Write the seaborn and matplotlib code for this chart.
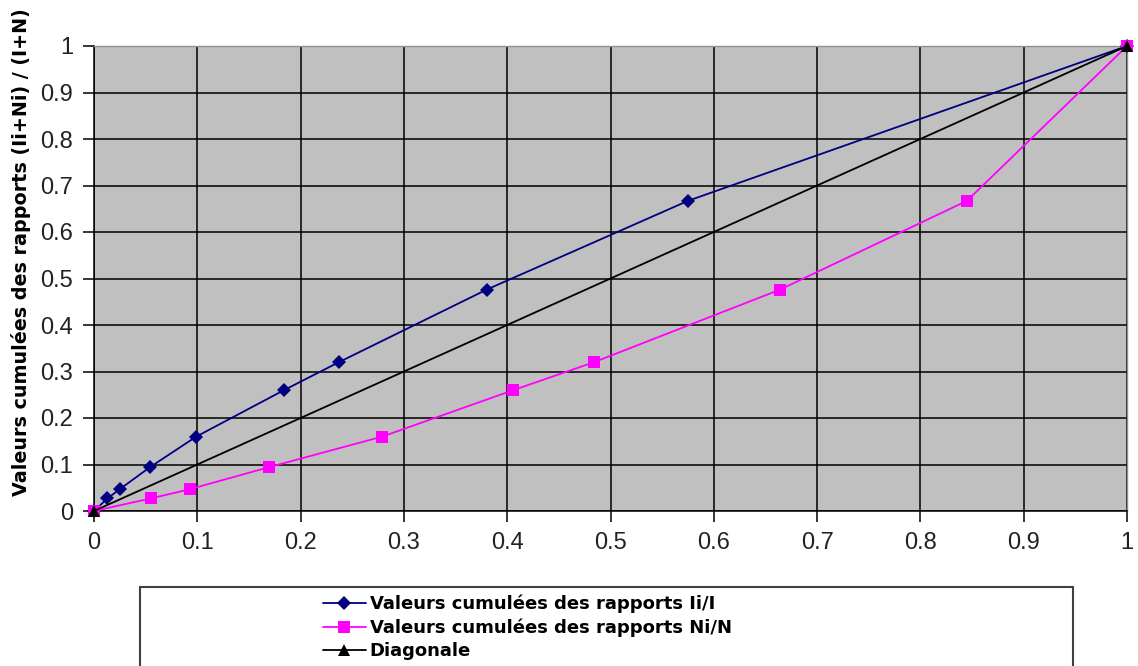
import matplotlib
matplotlib.use("Agg")
import matplotlib.pyplot as plt
import seaborn as sns
import pandas as pd
from matplotlib.patches import Rectangle

# cumulative shares
y_cum = [0, 0.027, 0.047, 0.094, 0.160, 0.260, 0.320, 0.476, 0.667, 1.0]
x_ii = [0, 0.013, 0.025, 0.054, 0.099, 0.184, 0.237, 0.380, 0.575, 1.0]
x_ni = [0, 0.055, 0.093, 0.169, 0.279, 0.406, 0.484, 0.664, 0.845, 1.0]
diag = [0, 1.0]

labels = ["Valeurs cumulées des rapports Ii/I",
          "Valeurs cumulées des rapports Ni/N",
          "Diagonale"]
ticks = [0, 0.1, 0.2, 0.3, 0.4, 0.5, 0.6, 0.7, 0.8, 0.9, 1]
tick_labels = ["0", "0.1", "0.2", "0.3", "0.4", "0.5", "0.6", "0.7", "0.8", "0.9", "1"]

sns.set_style("white")
plt.rcParams['font.family'] = ['Liberation Sans', 'DejaVu Sans']

fig = plt.figure(figsize=(11.38, 6.66), dpi=100)
ax = fig.add_axes([94 / 1138, 1 - 511 / 666, 1033 / 1138, 465 / 666])
ax.set_facecolor("#C0C0C0")

df_ii = pd.DataFrame({"x": x_ii, "y": y_cum})
df_ni = pd.DataFrame({"x": x_ni, "y": y_cum})
df_d = pd.DataFrame({"x": diag, "y": diag})

sns.lineplot(data=df_ii, x="x", y="y", ax=ax, sort=False, color="#000080",
             marker="D", markersize=7, markeredgewidth=0, linewidth=1.3,
             label=labels[0], zorder=4, clip_on=False)
sns.lineplot(data=df_ni, x="x", y="y", ax=ax, sort=False, color="#FF00FF",
             marker="s", markersize=8, markeredgewidth=0, linewidth=1.3,
             label=labels[1], zorder=4, clip_on=False)
sns.lineplot(data=df_d, x="x", y="y", ax=ax, sort=False, color="black",
             marker="^", markersize=9, markeredgewidth=0, linewidth=1.3,
             label=labels[2], zorder=5, clip_on=False)

ax.set_xlim(0, 1)
ax.set_ylim(0, 1)
ax.set_xticks(ticks)
ax.set_xticklabels(tick_labels)
ax.set_yticks(ticks)
ax.set_yticklabels(tick_labels)
ax.grid(True, color="black", linewidth=1.1, zorder=1)
ax.set_axisbelow(True)
ax.tick_params(axis="both", direction="out", length=8, width=1.1, color="black",
               labelsize=17, pad=7, labelcolor="#222222")
ax.tick_params(axis="x", bottom=True)
ax.tick_params(axis="y", left=True)
for side in ["left", "bottom"]:
    ax.spines[side].set_color("black")
    ax.spines[side].set_linewidth(1.1)
for side in ["top", "right"]:
    ax.spines[side].set_color("#909090")
    ax.spines[side].set_linewidth(1.0)

ax.set_xlabel("")
ax.set_ylabel("")
fig.text(21 / 1138, 1 - 252 / 666, "Valeurs cumulées des rapports (Ii+Ni) / (I+N)",
         rotation=90, ha="center", va="center", fontsize=13.8, fontweight="bold",
         family="DejaVu Sans", color="black")

# legend box, running off the bottom of the figure
handles, leg_labels = ax.get_legend_handles_labels()
ax.get_legend().remove()
fig.patches.append(Rectangle((140 / 1138, -0.05), 933 / 1138, 0.05 + (666 - 587) / 666,
                             transform=fig.transFigure, facecolor="white",
                             edgecolor="#404040", linewidth=1.5, clip_on=False))
leg = fig.legend(handles, leg_labels, loc="upper left",
                 bbox_to_anchor=(319 / 1138, 1 - 591 / 666), frameon=False,
                 prop={"family": "DejaVu Sans", "size": 13, "weight": "bold"},
                 handlelength=2.4, handletextpad=0.2, labelspacing=0.3,
                 borderpad=0.2, borderaxespad=0)
for t in leg.get_texts():
    t.set_color("black")

fig.savefig("out.png", dpi=100)
